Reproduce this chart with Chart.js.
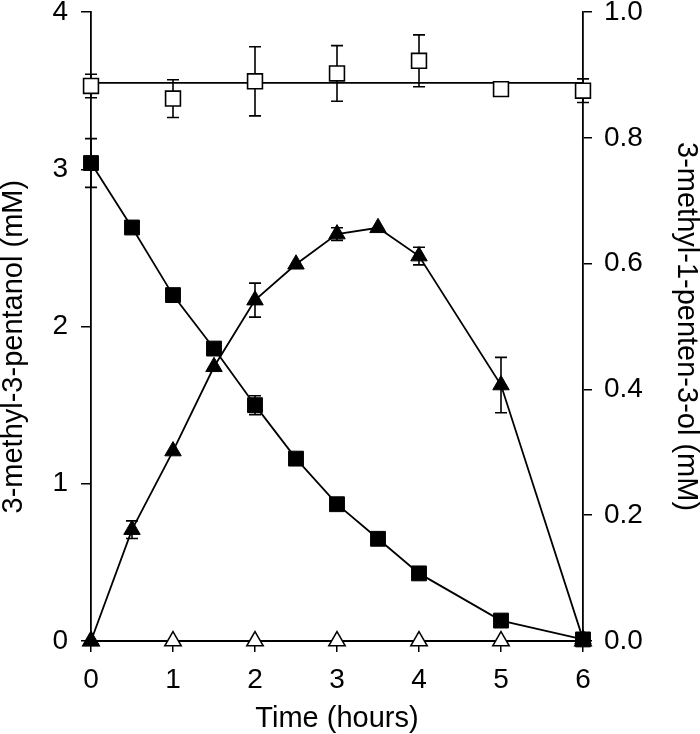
<!DOCTYPE html>
<html>
<head>
<meta charset="utf-8">
<script src="https://cdn.jsdelivr.net/npm/chart.js@4.4.1/dist/chart.umd.min.js"></script>
<style>
  html, body { margin: 0; padding: 0; background: #fff; }
  canvas { display: block; }
</style>
</head>
<body>
<canvas id="c" width="700" height="734"></canvas>
<script>
// ---- Data ----
const timeFine = [0, 0.5, 1, 1.5, 2, 2.5, 3, 3.5, 4, 5, 6];        // hours
const timeCoarse = [0, 1, 2, 3, 4, 5, 6];                           // hours

// 3-methyl-3-pentanol (mM), left axis, filled squares
const pentanol = [3.04, 2.63, 2.20, 1.86, 1.50, 1.16, 0.87, 0.65, 0.43, 0.13, 0.01];
const pentanolErr = [0.155, 0, 0, 0, 0.06, 0, 0, 0, 0, 0, 0];

// control (open squares), left axis
const control = [3.53, 3.45, 3.56, 3.61, 3.69, 3.51, 3.50];
const controlErr = [0.075, 0.12, 0.22, 0.177, 0.165, 0, 0.075];
const controlMean = 3.55;

// 3-methyl-1-penten-3-ol (mM), right axis, filled triangles
const pentenol = [0, 0.177, 0.302, 0.436, 0.542, 0.599, 0.647, 0.657, 0.612, 0.407, 0.003];
const pentenolErr = [0, 0.014, 0, 0, 0.027, 0, 0.01, 0, 0.014, 0.044, 0];

// control for penten-ol (open triangles), right axis
const pentenolCtrl = [0, 0, 0, 0, 0, 0, 0];

// axis ticks
const xTicks = [0, 1, 2, 3, 4, 5, 6];
const yLeftTicks = [0, 1, 2, 3, 4];
const yRightTicks = [0.0, 0.2, 0.4, 0.6, 0.8, 1.0];

// ---- helpers ----
const pts = (xs, ys) => xs.map((x, i) => ({ x: x, y: ys[i] }));
const FONT = "'Liberation Sans', Arial, Helvetica, sans-serif";

const errorBars = {
  id: 'errorBars',
  beforeDatasetsDraw(chart) {
    const ctx = chart.ctx;
    ctx.save();
    ctx.strokeStyle = '#000';
    ctx.lineWidth = 1.6;
    chart.data.datasets.forEach((ds) => {
      if (!ds.errors) return;
      const ys = chart.scales[ds.yAxisID];
      const xs = chart.scales.x;
      ds.data.forEach((p, i) => {
        const e = ds.errors[i];
        if (!e) return;
        const px = xs.getPixelForValue(p.x);
        const top = ys.getPixelForValue(p.y + e);
        const bot = ys.getPixelForValue(p.y - e);
        const cap = 6;
        ctx.beginPath();
        ctx.moveTo(px, top); ctx.lineTo(px, bot);
        ctx.moveTo(px - cap, top); ctx.lineTo(px + cap, top);
        ctx.moveTo(px - cap, bot); ctx.lineTo(px + cap, bot);
        ctx.stroke();
      });
    });
    ctx.restore();
  }
};

const noPad = (s) => { s.paddingTop = 0; s.paddingBottom = 0; s.paddingLeft = 0; s.paddingRight = 0; };

const tickFontY = { family: FONT, size: 28, lineHeight: 1.2 };
const tickFontX = { family: FONT, size: 28, lineHeight: 1.2 };
const titleFont = { family: FONT, size: 29, lineHeight: 1.0 };

new Chart(document.getElementById('c'), {
  type: 'line',
  data: {
    datasets: [
      {
        label: 'control mean', data: pts([0, 6], [controlMean, controlMean]),
        yAxisID: 'yL', borderColor: '#000', borderWidth: 1.8, pointRadius: 0, order: 10
      },
      {
        label: '3-methyl-3-pentanol', data: pts(timeFine, pentanol), errors: pentanolErr,
        yAxisID: 'yL', borderColor: '#000', borderWidth: 1.8,
        pointStyle: 'rect', pointRadius: 10.5, pointBackgroundColor: '#000',
        pointBorderColor: '#000', pointBorderWidth: 1, order: 2
      },
      {
        label: 'control', data: pts(timeCoarse, control), errors: controlErr,
        yAxisID: 'yL', showLine: false, borderColor: '#000',
        pointStyle: 'rect', pointRadius: 10.5, pointBackgroundColor: '#fff',
        pointBorderColor: '#000', pointBorderWidth: 1.6, order: 1
      },
      {
        label: '3-methyl-1-penten-3-ol', data: pts(timeFine, pentenol), errors: pentenolErr,
        yAxisID: 'yR', borderColor: '#000', borderWidth: 1.8,
        pointStyle: 'triangle', pointRadius: 9.5, pointBackgroundColor: '#000',
        pointBorderColor: '#000', pointBorderWidth: 1, order: 3
      },
      {
        label: 'penten-ol control', data: pts(timeCoarse, pentenolCtrl),
        yAxisID: 'yR', borderColor: '#000', borderWidth: 1.8,
        pointStyle: 'triangle', pointRadius: 9.5, pointBackgroundColor: '#fff',
        pointBorderColor: '#000', pointBorderWidth: 1.5, order: 4
      }
    ]
  },
  options: {
    responsive: false,
    devicePixelRatio: 1,
    animation: false,
    clip: false,
    layout: { padding: { top: 12, left: 0, right: 0, bottom: 0 } },
    plugins: { legend: { display: false }, tooltip: { enabled: false } },
    scales: {
      x: {
        type: 'linear', position: 'bottom', min: 0, max: 6,
        afterBuildTicks: (s) => { s.ticks = xTicks.map(v => ({ value: v })); },
        afterFit: (s) => { s.height = 93; noPad(s); },
        ticks: { color: '#000', font: tickFontX, padding: 11, maxRotation: 0 },
        grid: { display: true, drawOnChartArea: false, drawTicks: true, tickLength: 11, color: '#000', lineWidth: 1.5 },
        border: { display: true, color: '#000', width: 1.8 },
        title: { display: true, text: 'Time (hours)', color: '#000', font: titleFont, padding: { top: 0, bottom: 0.5 } }
      },
      yL: {
        type: 'linear', position: 'left', min: 0, max: 4,
        afterBuildTicks: (s) => { s.ticks = yLeftTicks.map(v => ({ value: v })); },
        afterFit: (s) => { s.width = 91; noPad(s); },
        ticks: { color: '#000', font: tickFontY, padding: 13, callback: (v) => String(v) },
        grid: { display: true, drawOnChartArea: false, drawTicks: true, tickLength: 10, color: '#000', lineWidth: 1.5 },
        border: { display: true, color: '#000', width: 1.8 },
        title: { display: true, text: '3-methyl-3-pentanol (mM)     ', color: '#000', font: titleFont, padding: { top: -1, bottom: 0 } }
      },
      yR: {
        type: 'linear', position: 'right', min: 0, max: 1,
        afterBuildTicks: (s) => { s.ticks = yRightTicks.map(v => ({ value: v })); },
        afterFit: (s) => { s.width = 117; noPad(s); },
        ticks: { color: '#000', font: tickFontY, padding: 12, callback: (v) => Number(v).toFixed(1) },
        grid: { display: true, drawOnChartArea: false, drawTicks: true, tickLength: 9, color: '#000', lineWidth: 1.5 },
        border: { display: true, color: '#000', width: 1.8 },
        title: { display: true, text: '3-methyl-1-penten-3-ol (mM)', color: '#000', font: titleFont, padding: { top: 0, bottom: 0 } }
      }
    }
  },
  plugins: [errorBars]
});
</script>
</body>
</html>
